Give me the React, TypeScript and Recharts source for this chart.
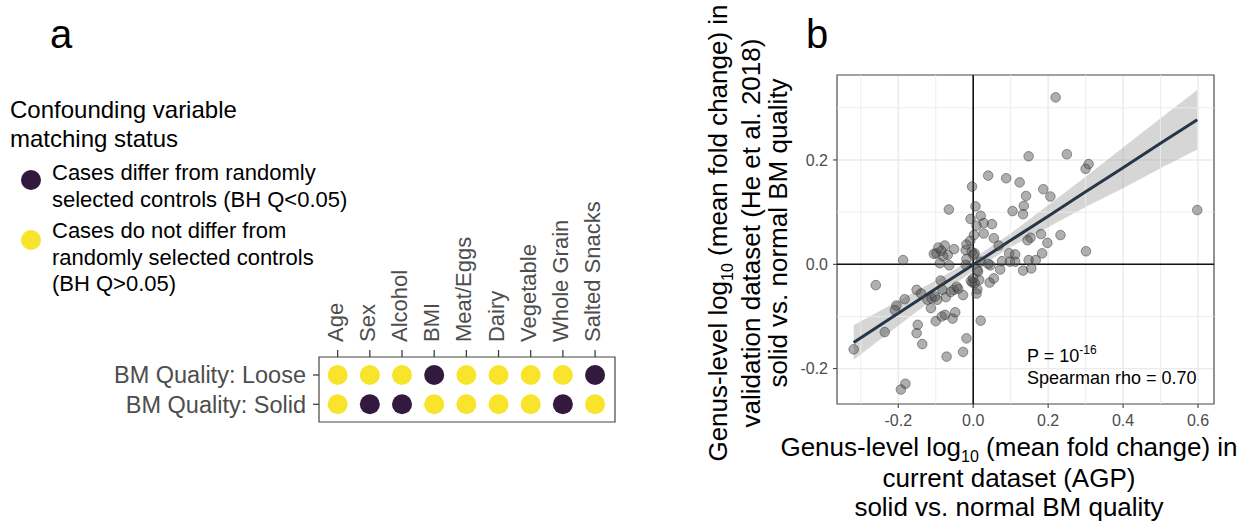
import React from "react";
import {
  ComposedChart,
  ScatterChart,
  Scatter,
  Line,
  Area,
  XAxis,
  YAxis,
  CartesianGrid,
  ReferenceLine,
  ReferenceArea,
} from "recharts";

const FONT = "'Liberation Sans', Arial, Helvetica, sans-serif";

// ---- panel a: confounder matching matrix
const variables = ["Age", "Sex", "Alcohol", "BMI", "Meat/Eggs", "Dairy", "Vegetable", "Whole Grain", "Salted Snacks"];
const qualityRows = ["BM Quality: Loose", "BM Quality: Solid"];
// 1 = cases differ from controls (BH Q<0.05), 0 = no difference
const looseDiffers = [0, 0, 0, 1, 0, 0, 0, 0, 1];
const solidDiffers = [0, 1, 1, 0, 0, 0, 0, 1, 0];
const DIFFER = "#34193F";
const SAME = "#F8E42B";

// ---- panel b: genus log10 fold change, AGP vs He et al. 2018
const agpX = [
  0.22, 0.148, 0.25, 0.308, 0.3, 0.04, 0.088, 0.124, -0.003, 0.187, 0.206, 0.141, 0.135, 0.133, 0.105,
  -0.065, 0.006, 0.598, -0.007, 0.02, 0.028, 0.05, 0.009, 0.002, 0.028, 0.055, 0.068, 0.181, 0.233, 0.153,
  0.145, 0.198, 0.184, 0.301, -0.076, -0.105, -0.098, -0.085, -0.068, -0.051, -0.018, -0.02, -0.004, 0.004,
  -0.089, -0.064, -0.187, -0.02, 0.046, 0.077, 0.096, 0.112, 0.098, 0.112, 0.072, 0.133, 0.148, 0.155, 0.167,
  0.011, -0.26, -0.151, -0.139, -0.183, -0.205, -0.209, -0.122, -0.113, -0.096, -0.087, -0.082, -0.073, -0.06,
  -0.052, -0.04, -0.027, -0.006, -0.002, 0.011, 0.009, 0.016, 0.044, 0.055, -0.1, -0.084, -0.075, -0.055,
  -0.048, 0.02, -0.236, -0.148, -0.151, -0.136, -0.319, -0.018, -0.071, -0.027, -0.193, -0.181,
  -0.093, -0.08, -0.018, 0.001, 0.013, 0.004, 0.0, 0.04, -0.044, -0.111, -0.102, -0.008, 0.02,
];
const heY = [
  0.32, 0.207, 0.211, 0.192, 0.183, 0.17, 0.165, 0.157, 0.149, 0.144, 0.13, 0.131, 0.112, 0.096, 0.102,
  0.105, 0.111, 0.104, 0.087, 0.093, 0.079, 0.077, 0.074, 0.056, 0.059, 0.05, 0.036, 0.058, 0.056, 0.051,
  0.046, 0.041, 0.021, 0.025, 0.036, 0.02, 0.021, 0.026, 0.018, 0.029, 0.038, 0.027, 0.024, 0.021,
  0.002, -0.002, 0.008, -0.001, -0.002, 0.006, 0.021, 0.019, 0.005, 0.005, -0.01, -0.012, 0.008, -0.008, 0.008,
  -0.011, -0.04, -0.049, -0.056, -0.067, -0.079, -0.088, -0.068, -0.084, -0.068, -0.031, -0.049, -0.063, -0.053,
  -0.049, -0.047, -0.059, -0.032, -0.035, -0.048, -0.056, -0.03, -0.035, -0.027, -0.109, -0.1, -0.097, -0.104,
  -0.092, -0.108, -0.13, -0.116, -0.132, -0.153, -0.163, -0.142, -0.177, -0.168, -0.24, -0.229,
  0.032, 0.015, 0.01, 0.018, -0.014, -0.036, -0.027, 0.001, -0.043, -0.065, -0.062, 0.045, 0.005,
];

// linear fit with 95% band
const fitX = [-0.319, -0.2, -0.1, 0, 0.1, 0.2, 0.3, 0.4, 0.5, 0.598];
const fitY = [-0.15, -0.094, -0.047, -0.001, 0.046, 0.092, 0.139, 0.185, 0.232, 0.277];
const fitLo = [-0.183, -0.118, -0.063, -0.013, 0.033, 0.071, 0.11, 0.146, 0.184, 0.22];
const fitHi = [-0.117, -0.07, -0.031, 0.011, 0.059, 0.113, 0.168, 0.224, 0.28, 0.334];

const xTicks = [-0.2, 0, 0.2, 0.4, 0.6];
const xMinor = [-0.3, -0.1, 0.1, 0.3, 0.5];
const yTicks = [-0.2, 0, 0.2];
const yMinor = [-0.1, 0.1, 0.3];

const X_DOMAIN: [number, number] = [-0.3635, 0.6427];
const Y_DOMAIN: [number, number] = [-0.2678, 0.3629];

const matrixData = variables.flatMap((v, i) => [
  { col: i, row: 1, differs: looseDiffers[i] },
  { col: i, row: 0, differs: solidDiffers[i] },
]);

const points = agpX.map((x, i) => ({ x, y: heY[i] }));
const bandData = fitX.map((x, i) => ({ x, fit: fitY[i], band: [fitLo[i], fitHi[i]] }));

function VarTick(props: any) {
  const { x, y, payload } = props;
  const tx = x + 5;
  return (
    <text
      x={tx}
      y={y}
      transform={`rotate(-90 ${tx} ${y})`}
      textAnchor="start"
      fontSize={22}
      fill="#4D4D4D"
      fontFamily={FONT}
    >
      {variables[payload.value]}
    </text>
  );
}

function MatchingMatrix() {
  return (
    <div style={{ position: "absolute", left: 100, top: 200 }}>
      <ScatterChart width={530} height={240} margin={{ top: 0, right: 15, bottom: 18, left: 0 }}>
        <XAxis
          type="number"
          dataKey="col"
          orientation="top"
          height={157}
          domain={[-0.58, 8.62]}
          ticks={variables.map((_, i) => i)}
          interval={0}
          tick={<VarTick />}
          tickSize={7}
          tickMargin={8}
          tickLine={{ stroke: "#333", strokeWidth: 1.2 }}
          axisLine={false}
        />
        <YAxis
          type="number"
          dataKey="row"
          width={219}
          domain={[-0.604, 1.614]}
          ticks={[0, 1]}
          interval={0}
          tickFormatter={(v) => qualityRows[qualityRows.length - 1 - v]}
          tick={{ fontSize: 23.5, fill: "#4D4D4D", fontFamily: FONT }}
          tickSize={6}
          tickMargin={7}
          tickLine={{ stroke: "#333", strokeWidth: 1.2 }}
          axisLine={false}
        />
        <ReferenceArea x1={-0.58} x2={8.62} y1={-0.604} y2={1.614} fill="none" stroke="#444" strokeWidth={1.2} />
        <Scatter
          data={matrixData}
          isAnimationActive={false}
          shape={(p: any) => (
            <circle cx={p.cx} cy={p.cy} r={10} fill={p.payload.differs ? DIFFER : SAME} />
          )}
        />
      </ScatterChart>
    </div>
  );
}

function FoldChangeScatter() {
  const tickStyle = { fontSize: 16, fill: "#4D4D4D", fontFamily: FONT };
  return (
    <div style={{ position: "absolute", left: 770, top: 60 }}>
      <ComposedChart width={460} height={400} data={bandData} margin={{ top: 15, right: 16, bottom: 26, left: 0 }}>
        <CartesianGrid stroke="#EBEBEB" strokeWidth={1.4} />
        {xMinor.map((v) => (
          <ReferenceLine key={`xm${v}`} x={v} stroke="#EBEBEB" strokeWidth={0.9} />
        ))}
        {yMinor.map((v) => (
          <ReferenceLine key={`ym${v}`} y={v} stroke="#EBEBEB" strokeWidth={0.9} />
        ))}
        <XAxis
          type="number"
          dataKey="x"
          domain={X_DOMAIN}
          ticks={xTicks}
          interval={0}
          height={30}
          tickFormatter={(v) => v.toFixed(1)}
          tick={tickStyle}
          tickSize={4}
          tickMargin={7}
          tickLine={{ stroke: "#333" }}
          axisLine={false}
        />
        <YAxis
          type="number"
          domain={Y_DOMAIN}
          ticks={yTicks}
          interval={0}
          width={67}
          tickFormatter={(v) => v.toFixed(1)}
          tick={tickStyle}
          tickSize={4}
          tickMargin={5}
          tickLine={{ stroke: "#333" }}
          axisLine={false}
        />
        <ReferenceLine x={0} stroke="#111" strokeWidth={1.6} />
        <ReferenceLine y={0} stroke="#111" strokeWidth={1.6} />
        <Scatter
          data={points}
          dataKey="y"
          isAnimationActive={false}
          shape={(p: any) => (
            <circle
              cx={p.cx}
              cy={p.cy}
              r={4.8}
              fill="#4D4D4D"
              fillOpacity={0.45}
              stroke="#2B2B2B"
              strokeOpacity={0.5}
              strokeWidth={0.9}
            />
          )}
        />
        <Area
          type="linear"
          dataKey="band"
          fill="#999999"
          fillOpacity={0.4}
          stroke="none"
          isAnimationActive={false}
        />
        <Line
          type="linear"
          dataKey="fit"
          stroke="#263646"
          strokeWidth={3}
          dot={false}
          activeDot={false}
          isAnimationActive={false}
        />
        <ReferenceArea
          x1={X_DOMAIN[0]}
          x2={X_DOMAIN[1]}
          y1={Y_DOMAIN[0]}
          y2={Y_DOMAIN[1]}
          fill="none"
          stroke="#555"
          strokeWidth={1.2}
        />
      </ComposedChart>
    </div>
  );
}

export default function App() {
  return (
    <div
      style={{
        position: "absolute",
        left: 0,
        top: 0,
        width: 1259,
        height: 522,
        background: "#fff",
        fontFamily: FONT,
        overflow: "hidden",
      }}
    >
      <MatchingMatrix />
      <FoldChangeScatter />
      <svg
        width={1259}
        height={522}
        style={{ position: "absolute", left: 0, top: 0, pointerEvents: "none" }}
        fontFamily={FONT}
      >
        <text x={50} y={48} fontSize={40} fill="#000">a</text>
        <text x={806} y={48} fontSize={40} fill="#000">b</text>

        {/* legend */}
        <text x={10} y={118} fontSize={24} fill="#000">Confounding variable</text>
        <text x={10} y={147} fontSize={24} fill="#000">matching status</text>
        <circle cx={31} cy={180} r={10} fill={DIFFER} />
        <text x={52} y={180} fontSize={22} fill="#000">Cases differ from randomly</text>
        <text x={52} y={207} fontSize={22} fill="#000">selected controls (BH Q&lt;0.05)</text>
        <circle cx={31} cy={240} r={10} fill={SAME} />
        <text x={52} y={238} fontSize={22} fill="#000">Cases do not differ from</text>
        <text x={52} y={265} fontSize={22} fill="#000">randomly selected controls</text>
        <text x={52} y={291} fontSize={22} fill="#000">(BH Q&gt;0.05)</text>

        {/* panel b annotation */}
        <text x={1027} y={362} fontSize={18} fill="#000">
          P = 10<tspan fontSize={12} dy={-8}>-16</tspan>
        </text>
        <text x={1027} y={384} fontSize={18} fill="#000">Spearman rho = 0.70</text>

        {/* panel b y title */}
        <g fontSize={26} fill="#000" textAnchor="middle">
          <text transform="translate(727,233) rotate(-90)">
            Genus-level log<tspan fontSize={16} dy={6}>10</tspan>
            <tspan dy={-6}> (mean fold change) in</tspan>
          </text>
          <text transform="translate(760,233) rotate(-90)">validation dataset (He et al. 2018)</text>
          <text transform="translate(787,233) rotate(-90)">solid vs. normal BM quality</text>
        </g>

        {/* panel b x title */}
        <g fontSize={26} fill="#000" textAnchor="middle">
          <text x={1009} y={456}>
            Genus-level log<tspan fontSize={16} dy={6}>10</tspan>
            <tspan dy={-6}> (mean fold change) in</tspan>
          </text>
          <text x={1009} y={487}>current dataset (AGP)</text>
          <text x={1009} y={516}>solid vs. normal BM quality</text>
        </g>
      </svg>
    </div>
  );
}
